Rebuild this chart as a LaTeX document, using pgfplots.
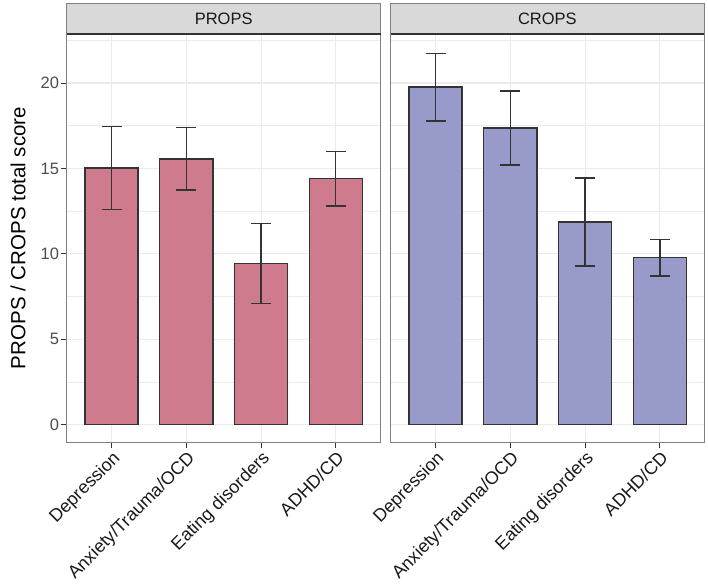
\documentclass[border=0pt]{standalone}
\usepackage{fontspec}
\setmainfont{Liberation Sans}
\usepackage{pgfplots}
\pgfplotsset{compat=1.18}
\definecolor{pinkfill}{RGB}{207,123,142}
\definecolor{bluefill}{RGB}{152,154,202}
\definecolor{grid92}{RGB}{235,235,235}
\definecolor{g20}{RGB}{51,51,51}
\definecolor{g30}{RGB}{77,77,77}
\definecolor{bordergray}{RGB}{128,128,128}
\definecolor{stripfill}{RGB}{217,217,217}
\newcommand{\smallfont}{\fontsize{16.5}{19}\selectfont}
\newcommand{\xfont}{\fontsize{18}{21}\selectfont}
\pgfplotsset{facet/.style={
  scale only axis, width=314pt, height=408.7pt,
  xmin=0.4, xmax=4.6, ymin=-1.05, ymax=22.87,
  xtick={1,2,3,4},
  xticklabels={Depression, Anxiety/Trauma/OCD, Eating disorders, ADHD/CD},
  ytick={0,5,10,15,20}, minor ytick={2.5,7.5,12.5,17.5,22.5},
  xtick pos=bottom, ytick pos=left,
  xmajorgrids, ymajorgrids, yminorgrids,
  major grid style={grid92, line width=1.1pt},
  minor grid style={grid92, line width=0.55pt},
  tick align=outside, major tick length=5.5pt, minor tick length=0pt,
  tick style={g20, line width=1pt},
  axis line style={bordergray, line width=1pt},
  /pgf/number format/assume math mode=true,
  xticklabel style={rotate=45, anchor=north east, font=\xfont, text=black!90, inner sep=1pt},
  yticklabel style={font=\smallfont, text=g30, inner sep=2pt},
  ybar, bar width=0.71, bar shift=0pt,
  anchor=south west,
}}
\pgfplotsset{bars/.style={draw=g20, line width=1.3pt,
  error bars/.cd, y dir=both, y explicit, error mark=|,
  error bar style={line width=1.3pt, color=g20},
  error mark options={line width=1.3pt, color=g20, mark size=10pt}}}
\begin{document}
\begin{tikzpicture}
\path[use as bounding box] (0,0) rectangle (708pt,-587pt);
\begin{axis}[facet, at={(66.7pt,-442.7pt)}]
\addplot[fill=pinkfill, bars]
  coordinates {
  (1,15.03) +- (0,2.43)
  (2,15.56) +- (0,1.82)
  (3,9.42) +- (0,2.34)
  (4,14.40) +- (0,1.60)
  };
\end{axis}
\begin{axis}[facet, at={(390.7pt,-442.7pt)}, yticklabels={}, y tick style={draw=none}]
\addplot[fill=bluefill, bars]
  coordinates {
  (1,19.76) +- (0,1.98)
  (2,17.37) +- (0,2.17)
  (3,11.87) +- (0,2.57)
  (4,9.77) +- (0,1.06)
  };
\end{axis}
% facet strips
\draw[fill=stripfill, draw=bordergray, line width=1pt] (66.7pt,-34pt) rectangle (380.7pt,-3pt);
\draw[fill=stripfill, draw=bordergray, line width=1pt] (390.7pt,-34pt) rectangle (704pt,-3pt);
\draw[g20, line width=1.6pt] (66.7pt,-34pt) -- (380.7pt,-34pt);
\draw[g20, line width=1.6pt] (390.7pt,-34pt) -- (704pt,-34pt);
\node[font=\smallfont, text=black!90] at (223.7pt,-18.5pt) {PROPS};
\node[font=\smallfont, text=black!90] at (547.35pt,-18.5pt) {CROPS};
\node[rotate=90, font=\fontsize{20.5}{24}\selectfont, text=black] at (18pt,-238pt) {PROPS / CROPS total score};
\end{tikzpicture}
\end{document}
